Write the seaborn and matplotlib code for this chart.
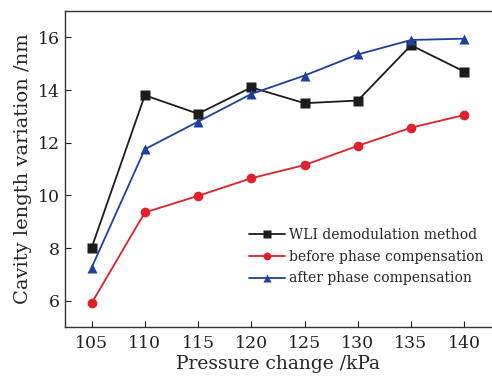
import matplotlib
matplotlib.use("Agg")
import matplotlib.pyplot as plt
import seaborn as sns
import pandas as pd

pressure = [105, 110, 115, 120, 125, 130, 135, 140]
wli = [8.0, 13.8, 13.1, 14.1, 13.5, 13.6, 15.7, 14.7]
before = [5.9, 9.35, 9.98, 10.65, 11.15, 11.88, 12.57, 13.05]
after = [7.25, 11.75, 12.8, 13.85, 14.55, 15.35, 15.9, 15.95]
series_names = ["WLI demodulation method", "before phase compensation", "after phase compensation"]

sns.set_style("ticks")
plt.rcParams['font.family'] = ['DejaVu Serif']

df = pd.DataFrame({
    "x": pressure * 3,
    "y": wli + before + after,
    "s": [series_names[0]] * 8 + [series_names[1]] * 8 + [series_names[2]] * 8,
})

fig = plt.figure(figsize=(4.92, 3.76), dpi=100)
ax = fig.add_axes([0.132, 0.1303, 0.868, 0.8404])
palette = {series_names[0]: "#1c1c1c", series_names[1]: "#e0202a", series_names[2]: "#1f3f9f"}
markers = {series_names[0]: "s", series_names[1]: "o", series_names[2]: "^"}
sns.lineplot(data=df, x="x", y="y", hue="s", style="s", palette=palette,
             markers=markers, dashes=False, markersize=7, linewidth=1.3,
             markeredgecolor="none", ax=ax)

ax.set_xlim(102.5, 142.6)
ax.set_ylim(5, 17)
ax.set_xticks(pressure)
ax.set_yticks([6, 8, 10, 12, 14, 16])
ax.tick_params(direction="in", labelsize=12.5, length=4, width=0.8, colors="#222222")
ax.tick_params(axis="x", pad=6)
for sp in ax.spines.values():
    sp.set_color("#333333")
    sp.set_linewidth(1.0)
ax.spines["right"].set_visible(False)
ax.set_xlabel("Pressure change /kPa", fontsize=13.5, labelpad=2)
ax.set_ylabel("Cavity length variation /nm", fontsize=14, labelpad=4)

leg = ax.legend(loc="lower right", bbox_to_anchor=(1.0, 0.105), frameon=False,
                fontsize=10.0, handlelength=2.6, handletextpad=0.3,
                labelspacing=0.55, borderaxespad=0.2, markerscale=0.8)

fig.savefig("out.png", dpi=100)
